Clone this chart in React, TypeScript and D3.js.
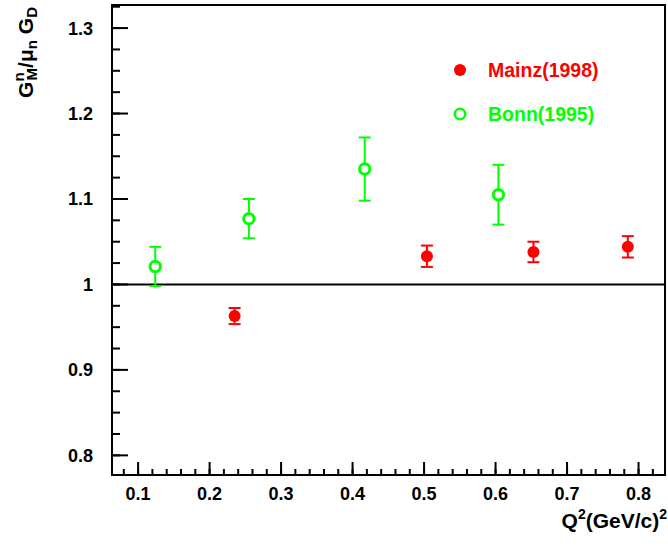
import * as d3 from "d3";

// Mainz (1998) points
const mainzQ2 = [0.235, 0.504, 0.653, 0.785];
const mainzG = [0.963, 1.033, 1.038, 1.044];
const mainzErr = [0.0094, 0.0125, 0.012, 0.0125];

// Bonn (1995) points
const bonnQ2 = [0.124, 0.255, 0.417, 0.604];
const bonnG = [1.021, 1.077, 1.135, 1.105];
const bonnErr = [0.023, 0.023, 0.037, 0.035];

const xTicks = [0.1, 0.2, 0.3, 0.4, 0.5, 0.6, 0.7, 0.8];
const yTicks = [0.8, 0.9, 1, 1.1, 1.2, 1.3];
const seriesNames = ["Mainz(1998)", "Bonn(1995)"];

const W = 668;
const H = 548;
const left = 112, right = 665, top = 5, bottom = 475;
const font = "'Liberation Sans', Arial, Helvetica, sans-serif";

export default function App() {
  const x = d3.scaleLinear().domain([0.0635, 0.837]).range([left, right]);
  const y = d3.scaleLinear().domain([0.777, 1.327]).range([bottom, top]);

  // minor ticks: 0.02 on x, 0.025 on y
  const xMinor = d3.range(0.06, 0.84, 0.02).filter(v => v >= 0.0635 && v <= 0.837);
  const yMinor = d3.range(0.775, 1.33, 0.025).filter(v => v >= 0.777 && v <= 1.327);

  const errBar = (q: number, g: number, e: number, color: string, key: string) => (
    <g key={key} stroke={color} strokeWidth={2}>
      <line x1={x(q)} x2={x(q)} y1={y(g - e)} y2={y(g + e)} />
      <line x1={x(q) - 6} x2={x(q) + 6} y1={y(g - e)} y2={y(g - e)} />
      <line x1={x(q) - 6} x2={x(q) + 6} y1={y(g + e)} y2={y(g + e)} />
    </g>
  );

  return (
    <svg width={W} height={H} style={{ position: "absolute", left: 0, top: 0, background: "white" }}>
      <rect x={0} y={0} width={W} height={H} fill="white" />
      {/* unity line */}
      <line x1={left} x2={right} y1={y(1)} y2={y(1)} stroke="black" strokeWidth={2} />

      {/* data */}
      {mainzQ2.map((q, i) => errBar(q, mainzG[i], mainzErr[i], "#ff0000", "me" + i))}
      {mainzQ2.map((q, i) => (
        <circle key={"m" + i} cx={x(q)} cy={y(mainzG[i])} r={6} fill="#ff0000" />
      ))}
      {bonnQ2.map((q, i) => errBar(q, bonnG[i], bonnErr[i], "#00ff00", "be" + i))}
      {bonnQ2.map((q, i) => (
        <circle key={"b" + i} cx={x(q)} cy={y(bonnG[i])} r={5.2} fill="white" stroke="#00ff00" strokeWidth={3} />
      ))}

      {/* frame */}
      <rect x={left} y={top} width={right - left} height={bottom - top} fill="none" stroke="black" strokeWidth={2} />

      {/* x ticks */}
      {xMinor.map((v, i) => (
        <line key={"xm" + i} x1={x(v)} x2={x(v)} y1={bottom} y2={bottom - 6} stroke="black" strokeWidth={2} />
      ))}
      {xTicks.map(v => (
        <g key={"xt" + v}>
          <line x1={x(v)} x2={x(v)} y1={bottom} y2={bottom - 13} stroke="black" strokeWidth={2} />
          <text x={x(v)} y={500} textAnchor="middle" fontFamily={font} fontWeight="bold" fontSize={18}>{v}</text>
        </g>
      ))}

      {/* y ticks */}
      {yMinor.map((v, i) => (
        <line key={"ym" + i} x1={left} x2={left + 8} y1={y(v)} y2={y(v)} stroke="black" strokeWidth={2} />
      ))}
      {yTicks.map(v => (
        <g key={"yt" + v}>
          <line x1={left} x2={left + 16} y1={y(v)} y2={y(v)} stroke="black" strokeWidth={2} />
          <text x={93} y={y(v) + 6.5} textAnchor="end" fontFamily={font} fontWeight="bold" fontSize={18}>{v}</text>
        </g>
      ))}

      {/* axis titles */}
      <text x={667} y={528} textAnchor="end" fontFamily={font} fontWeight="bold" fontSize={21}>
        Q<tspan dy={-9} fontSize={14}>2</tspan><tspan dy={9}>(GeV/c)</tspan><tspan dy={-9} fontSize={14}>2</tspan>
      </text>
      <text transform="translate(33,7) rotate(-90)" textAnchor="end" fontFamily={font} fontWeight="bold" fontSize={21}>
        G<tspan dy={-9} fontSize={15}>n</tspan><tspan dx={-8} dy={13} fontSize={15}>M</tspan><tspan dy={-4}>/μ</tspan><tspan dy={4} fontSize={15}>n</tspan><tspan dy={-4}> G</tspan><tspan dy={4} fontSize={15}>D</tspan>
      </text>

      {/* legend */}
      <circle cx={460} cy={70} r={6} fill="#ff0000" />
      <text x={488} y={77} fontFamily={font} fontWeight="bold" fontSize={19.5} fill="#ff0000">{seriesNames[0]}</text>
      <circle cx={460} cy={114} r={5.2} fill="white" stroke="#00ff00" strokeWidth={2.5} />
      <text x={488} y={121} fontFamily={font} fontWeight="bold" fontSize={19.5} fill="#00ff00">{seriesNames[1]}</text>
    </svg>
  );
}
